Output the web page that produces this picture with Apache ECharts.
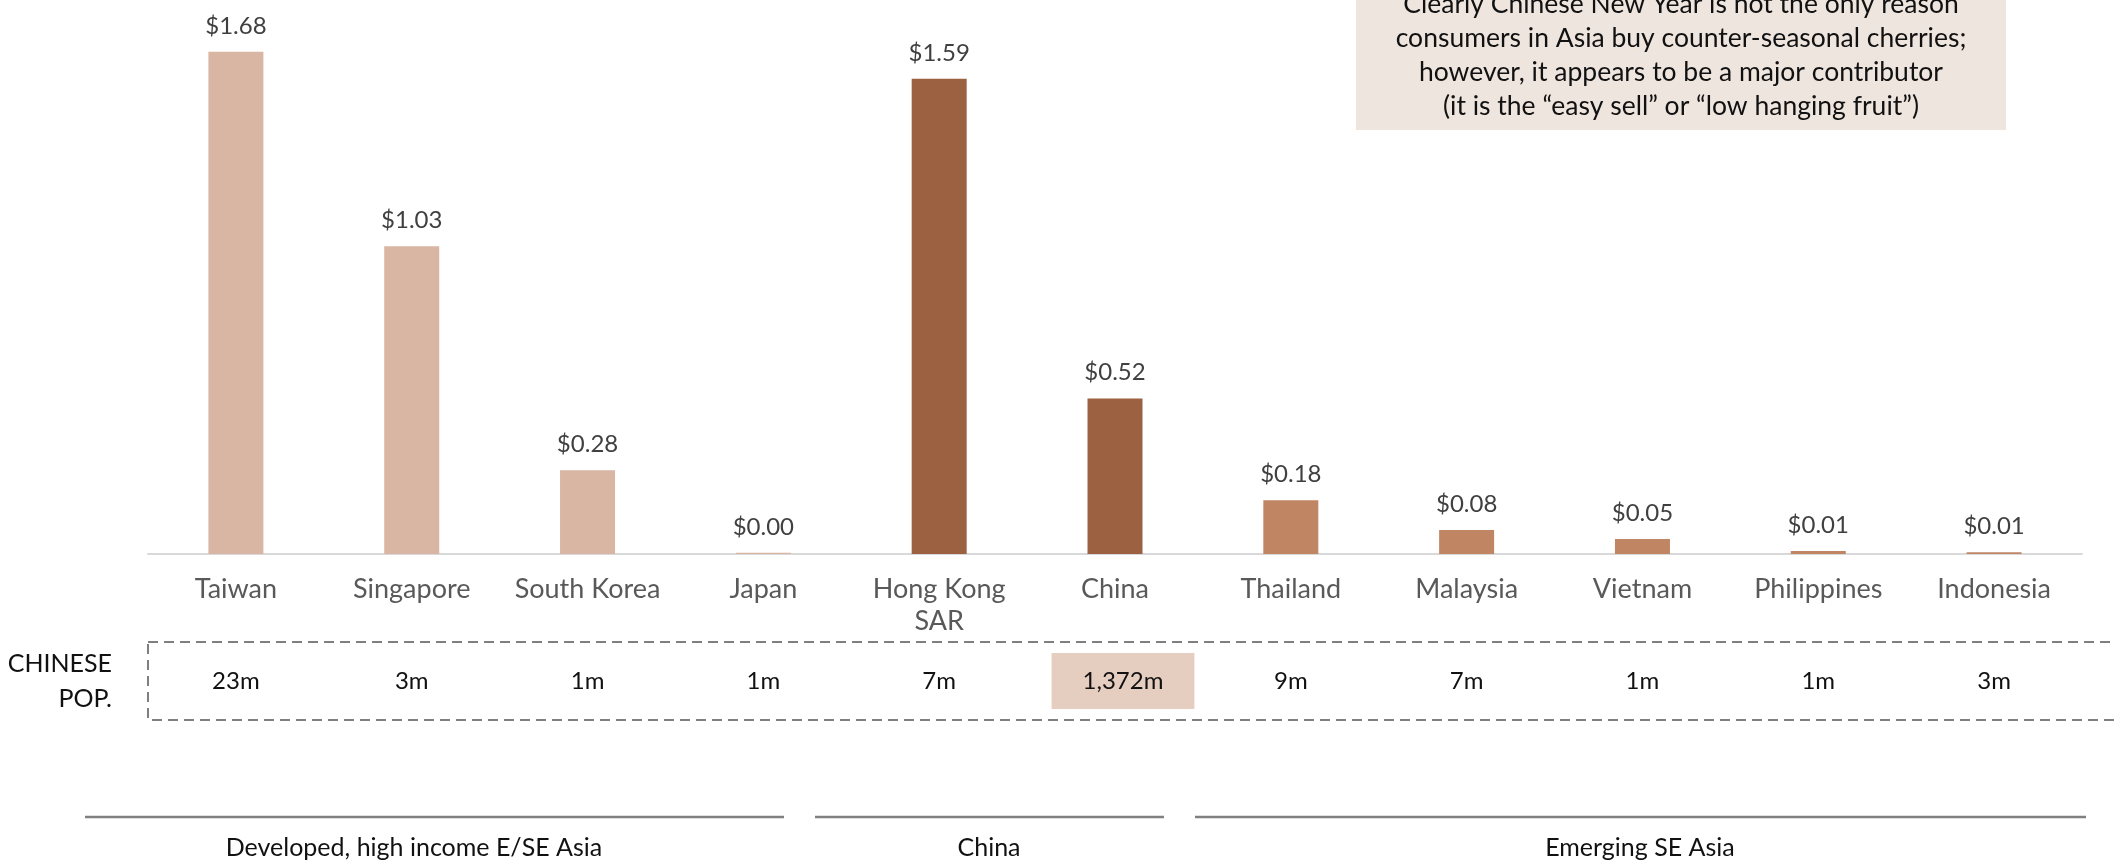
<!DOCTYPE html>
<html>
<head>
<meta charset="utf-8">
<script src="https://cdn.jsdelivr.net/npm/echarts@6/dist/echarts.min.js"></script>
<style>
  html, body { margin: 0; padding: 0; background: #fff; }
  #chart { width: 2115px; height: 866px; }
</style>
</head>
<body>
<div id="chart"></div>
<script>
// Cherry spend per capita (US$) by market, with ethnic Chinese population
const countries = ['Taiwan', 'Singapore', 'South Korea', 'Japan', 'Hong Kong\nSAR', 'China',
  'Thailand', 'Malaysia', 'Vietnam', 'Philippines', 'Indonesia'];
const spendPerCapita = [1.68, 1.03, 0.28, 0.004, 1.59, 0.52, 0.18, 0.08, 0.05, 0.01, 0.006];
const chinesePop = ['23m', '3m', '1m', '1m', '7m', '1,372m', '9m', '7m', '1m', '1m', '3m'];
const marketGroup = ['dev', 'dev', 'dev', 'dev', 'china', 'china',
  'emg', 'emg', 'emg', 'emg', 'emg'];
const groupNames = ['Developed, high income E/SE Asia', 'China', 'Emerging SE Asia'];
const highlightPop = '1,372m';
const noteLines = [
  'Clearly Chinese New Year is not the only reason',
  'consumers in Asia buy counter-seasonal cherries;',
  'however, it appears to be a major contributor',
  '(it is the \u201Ceasy sell\u201D or \u201Clow hanging fruit\u201D)'
];

const groupColors = { dev: '#D9B5A3', china: '#9C6140', emg: '#C08563' };
const FONT = 'Lato, "Open Sans", sans-serif';

const chart = echarts.init(document.getElementById('chart'), null, { renderer: 'canvas' });

// group bracket lines under the chart, with their captions
const brackets = [
  { x1: 85, x2: 784, tx: 414 },
  { x1: 815, x2: 1164, tx: 989 },
  { x1: 1195, x2: 2086, tx: 1640 }
];
const bracketGraphics = [];
brackets.forEach((b, i) => {
  bracketGraphics.push({
    type: 'line',
    shape: { x1: b.x1, y1: 817, x2: b.x2, y2: 817 },
    style: { stroke: '#808080', lineWidth: 2.5 }
  });
  bracketGraphics.push({
    type: 'text',
    x: b.tx, y: 848,
    style: {
      text: groupNames[i], fill: '#111', font: '25px ' + FONT,
      textAlign: 'center', textVerticalAlign: 'middle'
    }
  });
});

const option = {
  animation: false,
  backgroundColor: '#fff',
  grid: [
    { left: 148, right: 33, top: 16, height: 538 },
    { left: 148, right: 33, top: 640, height: 41 }
  ],
  xAxis: [
    {
      type: 'category', gridIndex: 0, data: countries,
      axisLine: { lineStyle: { color: '#D9D9D9', width: 2 } },
      axisTick: { show: false },
      axisLabel: {
        color: '#595959', fontSize: 27, fontFamily: FONT,
        margin: 19, lineHeight: 32, interval: 0
      }
    },
    {
      type: 'category', gridIndex: 1, data: chinesePop,
      axisLine: { show: false }, axisTick: { show: false },
      axisLabel: {
        interval: 0, margin: 0, verticalAlign: 'middle',
        color: '#111', fontSize: 24, fontFamily: FONT,
        formatter: v => v === highlightPop ? '{sp| }{hl|' + v + '}' : v,
        rich: {
          sp: { width: 16, fontSize: 24 },
          hl: {
            backgroundColor: '#E5CDBF', padding: [16, 31],
            color: '#111', fontSize: 24, fontFamily: FONT
          }
        }
      }
    }
  ],
  yAxis: [
    { type: 'value', gridIndex: 0, min: 0, max: 1.8, show: false, splitLine: { show: false } },
    { type: 'value', gridIndex: 1, show: false, splitLine: { show: false } }
  ],
  series: [
    {
      type: 'bar', xAxisIndex: 0, yAxisIndex: 0,
      barWidth: 55,
      data: spendPerCapita.map((v, i) => ({
        value: v, itemStyle: { color: groupColors[marketGroup[i]] }
      })),
      label: {
        show: true, position: 'top', distance: 14,
        color: '#404040', fontSize: 24, fontFamily: FONT,
        formatter: p => '$' + p.value.toFixed(2)
      }
    }
  ],
  graphic: [
    // dashed frame around the population row (open to the right)
    {
      type: 'rect',
      shape: { x: 148, y: 642, width: 2000, height: 78 },
      style: { fill: 'none', stroke: '#7F7F7F', lineWidth: 2, lineDash: [10, 6] }
    },
    {
      type: 'text', x: 112, y: 681,
      style: {
        text: 'CHINESE\nPOP.', fill: '#111', font: '25px ' + FONT,
        textAlign: 'right', textVerticalAlign: 'middle', lineHeight: 35
      }
    },
    // note box at top right
    {
      type: 'rect',
      shape: { x: 1356, y: -10, width: 650, height: 140 },
      style: { fill: '#EFE5DF' }
    },
    {
      type: 'text', x: 1681, y: -13,
      style: {
        text: noteLines.join('\n'), fill: '#111', font: '26.5px ' + FONT,
        textAlign: 'center', textVerticalAlign: 'top', lineHeight: 34
      }
    },
    ...bracketGraphics
  ]
};

chart.setOption(option);
</script>
</body>
</html>
